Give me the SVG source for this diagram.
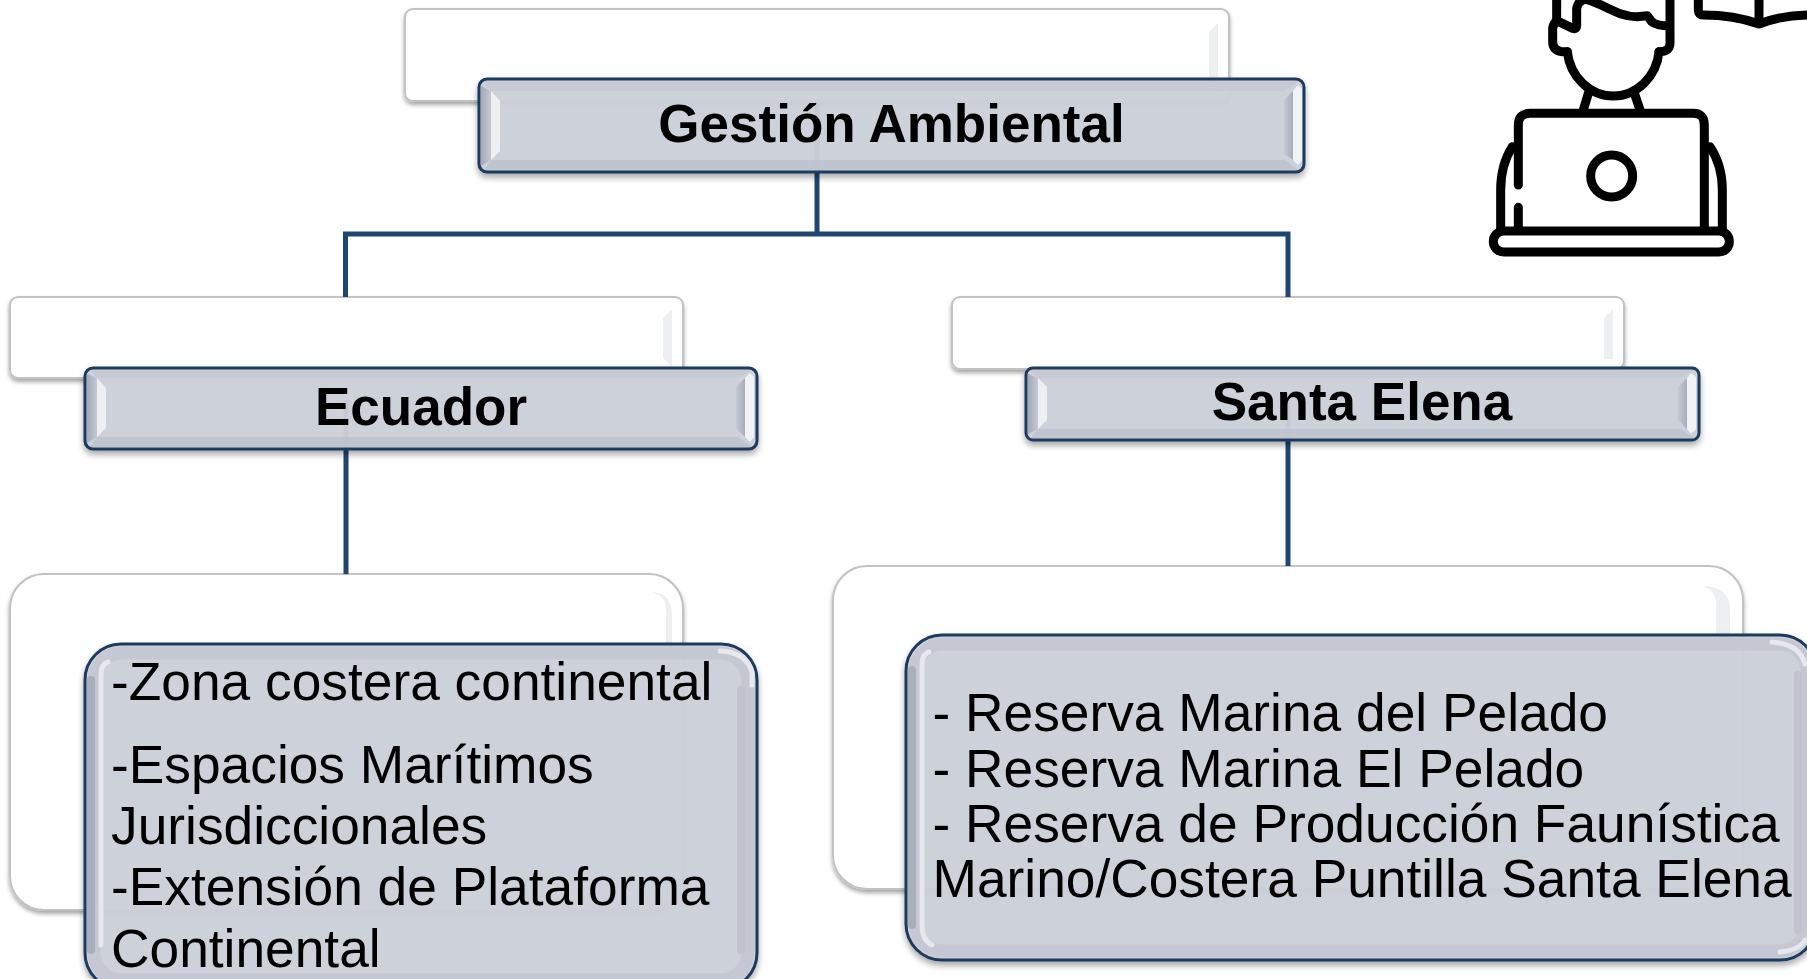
<svg xmlns="http://www.w3.org/2000/svg" width="1807" height="979" viewBox="0 0 1807 979">
<style>
text{font-family:"Liberation Sans",Arial,sans-serif;font-size:53.300px;fill:#000}
.b{font-size:53px;font-weight:700;text-anchor:middle}
.back{fill:#fff;stroke:#c2c2c2;stroke-width:2;filter:url(#sh)}
.bev{fill:#eeeff1}
.front{fill:#cdd1da;fill-opacity:.95;stroke:#1c3a5f;stroke-width:3;filter:url(#sh2)}
.top{fill:#c6c9d3;fill-opacity:.9}
.bot{fill:#bec2cd;fill-opacity:.9}
.lo{fill:url(#lo)}
.li{fill:#eeeff3}
.ri{fill:url(#ri)}
.ro{fill:#f1f2f5}
.band{fill:none;stroke:#c5c8d2;stroke-width:13}
.dk{fill:none;stroke:#a9aebb;stroke-width:8;stroke-linecap:round}
.dk2{fill:none;stroke:#c0c3ce;stroke-width:8;stroke-linecap:round}
.hl{fill:none;stroke:#e6e8ed;stroke-width:5;stroke-linecap:round}
.conn{fill:none;stroke:#1f4573;stroke-width:5}
.ic{fill:none;stroke:#000;stroke-width:27;stroke-linecap:round;stroke-linejoin:round}
</style>
<defs>
<filter id="sh" x="-5%" y="-10%" width="110%" height="125%"><feDropShadow dx="0" dy="3" stdDeviation="2" flood-color="#000" flood-opacity=".35"/></filter>
<filter id="sh2" x="-5%" y="-10%" width="110%" height="125%"><feDropShadow dx="0" dy="4" stdDeviation="3" flood-color="#000" flood-opacity=".35"/></filter>
<linearGradient id="lo"><stop offset="0" stop-color="#a4a9b8"/><stop offset="1" stop-color="#c6c9d3"/></linearGradient>
<linearGradient id="ri"><stop offset="0" stop-color="#c6c9d3"/><stop offset="1" stop-color="#a8adbb"/></linearGradient>
</defs>
<rect width="1807" height="979" fill="#fff"/>

<g id="back-boxes">
<g id="back-gestion"><rect class="back" x="405" y="9" width="824" height="92" rx="8"/><path class="bev" d="M1209 32l9-9v70l-9-9z"/></g>
<g id="back-ecuador"><rect class="back" x="10" y="297" width="673" height="81" rx="8"/><path class="bev" d="M663 318l9-9v58l-9-9z"/></g>
<g id="back-santa"><rect class="back" x="952" y="297" width="672" height="72" rx="8"/><path class="bev" d="M1604 318l9-9v50h-9z"/></g>
<g id="back-list-left"><rect class="back" x="10" y="574" width="673" height="336" rx="34"/><path class="bev" d="M666 640V610q0-14-14-18q20 0 20 24v30h-6z"/></g>
<g id="back-list-right"><rect class="back" x="833" y="566" width="910" height="323" rx="34"/><path class="bev" d="M1716 640V604q0-14-14-18q28 0 28 24v30h-14z"/></g>
</g>

<g id="connectors">
<path class="conn" d="M817 102V234M345.500 297V234H1288V297M346 400V574M1288 400V566"/>
</g>

<g id="node-gestion">
<rect class="front" x="479" y="79" width="825" height="93" rx="8"/>
<path class="top" d="M484 81H1299L1284 91H491z"/>
<path class="bot" d="M491 160H1284L1299 170H484z"/>
<path class="lo" d="M481 86l10 5v69l-10 6z"/>
<path class="li" d="M491 91l9 10v50l-9 9z"/>
<path class="ri" d="M1284 100l9-9v69l-9-6z"/>
<path class="ro" d="M1293 91l5-6 4 4v71l-4 5-5-5z"/>
<text class="b" x="891.500" y="141.500">Gestión Ambiental</text>
</g>

<g id="node-ecuador">
<rect class="front" x="85" y="368" width="672" height="81" rx="8"/>
<path class="top" d="M90 370H752L738 378H97z"/>
<path class="bot" d="M97 437H738L752 447H90z"/>
<path class="lo" d="M87 374l10 4v59l-10 6z"/>
<path class="li" d="M97 378l9 10v40l-9 9z"/>
<path class="ri" d="M736 387l9-9v59l-9-9z"/>
<path class="ro" d="M745 378l5-5 4 4v60l-4 5-5-5z"/>
<text class="b" x="421" y="424.500">Ecuador</text>
</g>

<g id="node-santa">
<rect class="front" x="1026" y="368" width="673" height="72" rx="7"/>
<path class="top" d="M1031 370H1694L1680 378H1038z"/>
<path class="bot" d="M1038 429H1680L1694 438H1031z"/>
<path class="lo" d="M1028 374l10 4v51l-10 5z"/>
<path class="li" d="M1038 378l9 9v33l-9 9z"/>
<path class="ri" d="M1678 387l9-9v51l-9-9z"/>
<path class="ro" d="M1687 378l4-5 5 4v52l-5 5-4-5z"/>
<text class="b" x="1362" y="420">Santa Elena</text>
</g>

<g id="node-list-left">
<rect class="front" x="85" y="644" width="672" height="345" rx="36"/>
<rect class="band" x="94" y="653" width="654" height="327" rx="28"/>
<path class="dk" d="M91 680V950"/>
<path class="hl" d="M101 690V675Q101 664 108 662M101 690V945"/>
<path class="dk2" d="M741 690V950"/>
<path class="hl" d="M752 672V685M720 651Q746 652 752 672"/>
<text x="111" y="699.500">-Zona costera continental</text>
<text x="111" y="782.500">-Espacios Marítimos</text>
<text x="111" y="843.500">Jurisdiccionales</text>
<text x="111" y="904.500">-Extensión de Plataforma</text>
<text x="111" y="966.500">Continental</text>
</g>

<g id="node-list-right">
<rect class="front" x="906" y="635" width="910" height="325" rx="36"/>
<rect class="band" x="915" y="644" width="892" height="307" rx="28"/>
<path class="dk" d="M912 670V925"/>
<path class="hl" d="M922 680V665Q922 654 929 652M922 680V925Q922 940 932 945"/>
<path class="dk2" d="M1798 675V930"/>
<path class="hl" d="M1772 642Q1800 644 1805 664M1805 940Q1800 950 1780 952"/>
<text x="932.500" y="731">- Reserva Marina del Pelado</text>
<text x="932.500" y="786.500">- Reserva Marina El Pelado</text>
<text x="932.500" y="842">- Reserva de Producción Faunística</text>
<text x="932.500" y="897">Marino/Costera Puntilla Santa Elena</text>
</g>

<g id="icon" transform="translate(1460 0) scale(.33333)">
<path class="ic" d="M175 555V375Q175 340 210 340H700Q733 340 733 375V690M175 622V690"/>
<rect class="ic" x="100" y="693" width="708" height="63" rx="31"/>
<path class="ic" d="M157 440Q122 495 122 570V690M750 440Q787 495 787 570V690"/>
<circle class="ic" cx="455" cy="528" r="63"/>
<path class="ic" d="M385 280L370 330M525 285L540 330"/>
<path class="ic" d="M322 155C330 230 390 288 460 288C530 288 590 230 597 155"/>
<path class="ic" d="M322 155H305Q278 150 278 125V85Q280 70 290 62L338 85Q350 90 350 75V25Q355 0 378 -2C430 10 470 50 530 50L562 47L575 65Q590 78 630 78V-10M630 78V130Q630 155 597 155M290 62V-10"/>
<path class="ic" d="M715 -10V30Q715 45 730 45C790 45 850 55 897 72C940 55 990 45 1050 45M897 -10V72"/>
</g>
</svg>
